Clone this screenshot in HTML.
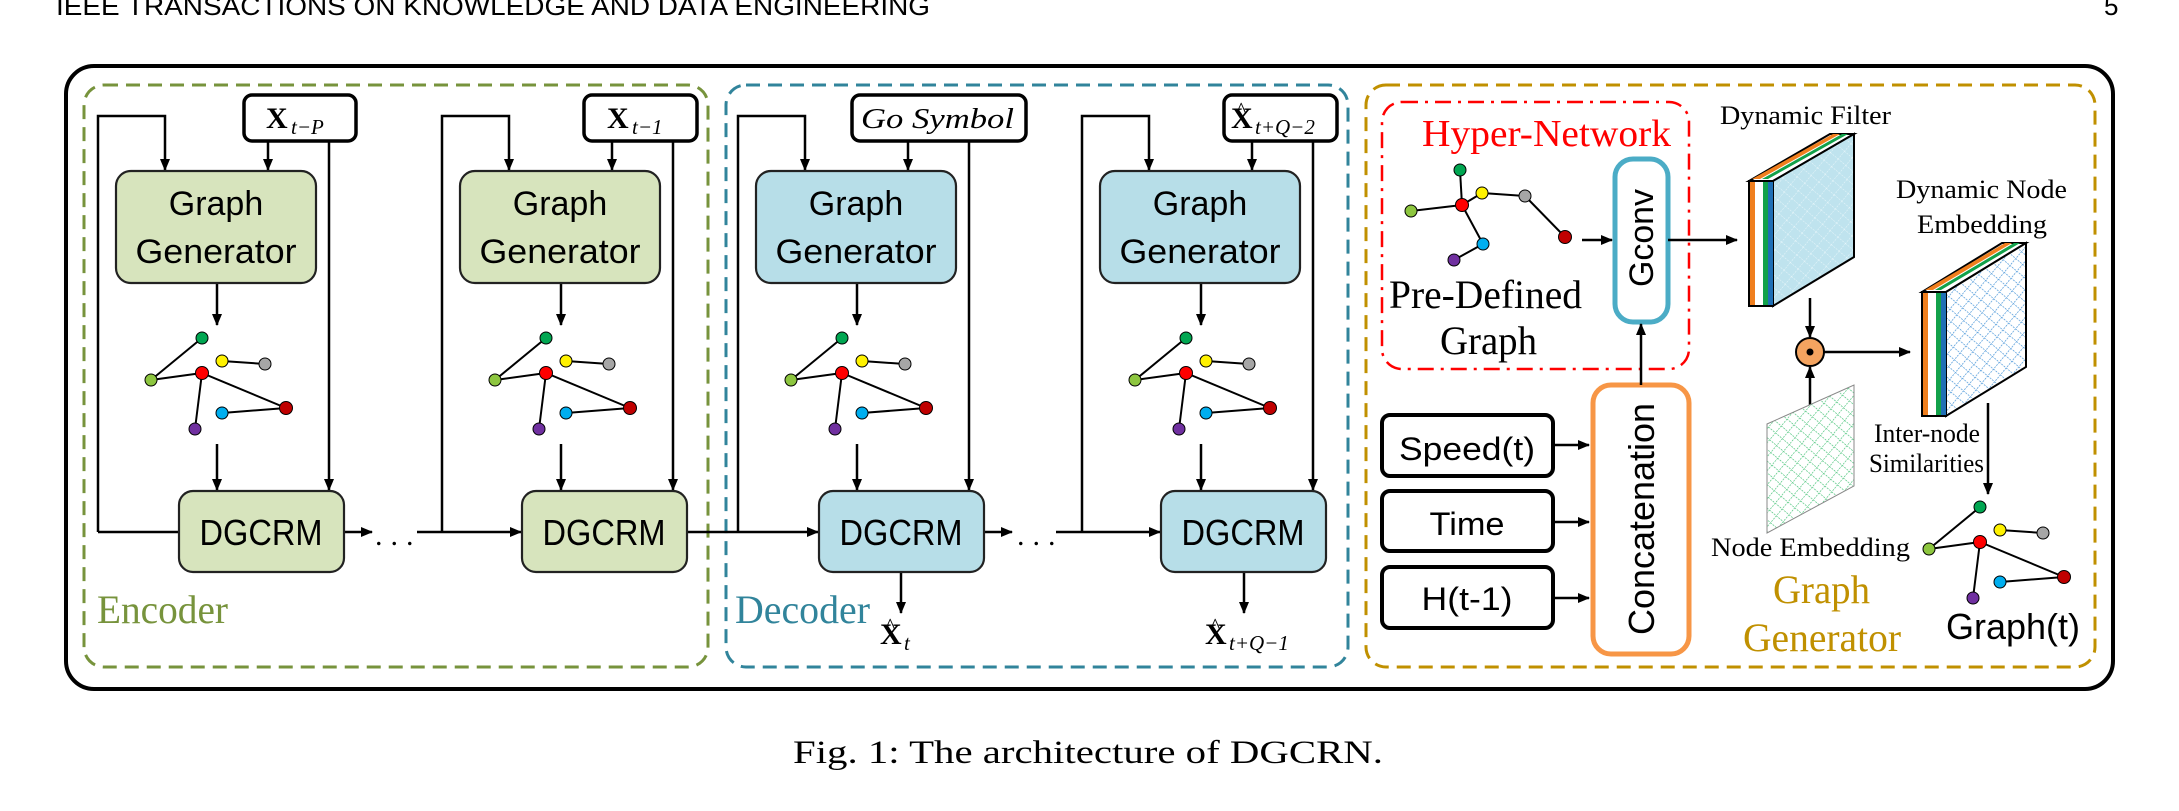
<!DOCTYPE html>
<html><head><meta charset="utf-8"><style>
html,body{margin:0;padding:0;background:#fff;}
svg{display:block;}
.sans{font-family:"Liberation Sans",sans-serif;}
.serif{font-family:"Liberation Serif",serif;}
</style></head><body>
<svg width="2179" height="811" viewBox="0 0 2179 811" xmlns="http://www.w3.org/2000/svg">
<defs>
<marker id="ah" markerWidth="12" markerHeight="10" refX="11" refY="5" orient="auto" markerUnits="userSpaceOnUse">
<path d="M0,0 L12,5 L0,10 z" fill="#000"/></marker>
<pattern id="hb" width="10" height="10" patternUnits="userSpaceOnUse" patternTransform="rotate(40)">
<rect width="10" height="10" fill="#bfe3ee"/><line x1="0" y1="0" x2="0" y2="10" stroke="#e8f6fa" stroke-width="1" stroke-dasharray="2,1"/><line x1="0" y1="0" x2="10" y2="0" stroke="#e8f6fa" stroke-width="1" stroke-dasharray="2,1"/></pattern>
<pattern id="hb2" width="9" height="9" patternUnits="userSpaceOnUse" patternTransform="rotate(40)">
<rect width="9" height="9" fill="#fff"/><line x1="0" y1="0" x2="0" y2="9" stroke="#3d8fd6" stroke-width="1.3" stroke-dasharray="2,1"/><line x1="0" y1="0" x2="9" y2="0" stroke="#3d8fd6" stroke-width="1.3" stroke-dasharray="2,1"/></pattern>
<pattern id="hg" width="9" height="9" patternUnits="userSpaceOnUse" patternTransform="rotate(40)">
<rect width="9" height="9" fill="#fff"/><line x1="0" y1="0" x2="0" y2="9" stroke="#3cbf70" stroke-width="1.2" stroke-dasharray="2,1"/><line x1="0" y1="0" x2="9" y2="0" stroke="#3cbf70" stroke-width="1.2" stroke-dasharray="2,1"/></pattern>
<g id="gicon" stroke="#000" stroke-width="2">
<line x1="35" y1="380" x2="86" y2="338"/><line x1="35" y1="380" x2="86" y2="373"/>
<line x1="106" y1="361" x2="149" y2="364"/><line x1="86" y1="373" x2="170" y2="408"/>
<line x1="86" y1="373" x2="79" y2="429"/><line x1="106" y1="413" x2="170" y2="408"/>
<circle cx="86" cy="338" r="6" fill="#00a651" stroke-width="1"/>
<circle cx="106" cy="361" r="6" fill="#fff200" stroke-width="1"/>
<circle cx="149" cy="364" r="6" fill="#a6a6a6" stroke-width="1"/>
<circle cx="35" cy="380" r="6" fill="#8dc63f" stroke-width="1"/>
<circle cx="86" cy="373" r="6.5" fill="#ff0000" stroke-width="1"/>
<circle cx="170" cy="408" r="6.5" fill="#c00000" stroke-width="1"/>
<circle cx="106" cy="413" r="6" fill="#00aeef" stroke-width="1"/>
<circle cx="79" cy="429" r="6" fill="#7030a0" stroke-width="1"/>
</g>
<g id="col" fill="none" stroke="#000" stroke-width="2.5">
<polyline points="-18,532 -18,116 49,116 49,170" marker-end="url(#ah)"/>
<line x1="152" y1="141" x2="152" y2="170" marker-end="url(#ah)"/>
<line x1="213" y1="141" x2="213" y2="490" marker-end="url(#ah)"/>
<line x1="101" y1="283" x2="101" y2="325" marker-end="url(#ah)"/>
<line x1="101" y1="444" x2="101" y2="490" marker-end="url(#ah)"/>
</g>
</defs>

<text x="56" y="15" class="sans" font-size="26" fill="#000" textLength="874" lengthAdjust="spacingAndGlyphs">IEEE TRANSACTIONS ON KNOWLEDGE AND DATA ENGINEERING</text>
<text x="2104" y="15" class="sans" font-size="26" fill="#000">5</text>

<rect x="66" y="66" width="2047" height="623" rx="28" fill="none" stroke="#000" stroke-width="4"/>
<rect x="84" y="85" width="624" height="582" rx="20" fill="none" stroke="#77933C" stroke-width="3" stroke-dasharray="14,8"/>
<rect x="726" y="85" width="622" height="582" rx="20" fill="none" stroke="#31849B" stroke-width="3" stroke-dasharray="14,8"/>
<rect x="1366" y="85" width="729" height="582" rx="20" fill="none" stroke="#C09000" stroke-width="3" stroke-dasharray="14,8"/>

<g transform="translate(116,0)"><use href="#col"/><use href="#gicon"/></g>
<g transform="translate(460,0)"><use href="#col"/><use href="#gicon"/></g>
<g transform="translate(756,0)"><use href="#col"/><use href="#gicon"/></g>
<g transform="translate(1100,0)"><use href="#col"/><use href="#gicon"/></g>

<g fill="none" stroke="#000" stroke-width="2.5">
<line x1="98" y1="532" x2="179" y2="532"/>
<line x1="344" y1="532" x2="372" y2="532" marker-end="url(#ah)"/>
<line x1="417" y1="532" x2="521" y2="532" marker-end="url(#ah)"/>
<line x1="688" y1="532" x2="818" y2="532" marker-end="url(#ah)"/>
<line x1="984" y1="532" x2="1012" y2="532" marker-end="url(#ah)"/>
<line x1="1056" y1="532" x2="1160" y2="532" marker-end="url(#ah)"/>
<line x1="901" y1="572" x2="901" y2="613" marker-end="url(#ah)"/>
<line x1="1244" y1="572" x2="1244" y2="613" marker-end="url(#ah)"/>
</g>
<text x="375" y="545" class="serif" font-size="30" letter-spacing="8">...</text>
<text x="1017" y="545" class="serif" font-size="30" letter-spacing="8">...</text>

<g stroke="#222" stroke-width="2.2">
<rect x="116" y="171" width="200" height="112" rx="15" fill="#D7E4BD"/>
<rect x="460" y="171" width="200" height="112" rx="15" fill="#D7E4BD"/>
<rect x="756" y="171" width="200" height="112" rx="15" fill="#B7DEE8"/>
<rect x="1100" y="171" width="200" height="112" rx="15" fill="#B7DEE8"/>
<rect x="179" y="491" width="165" height="81" rx="14" fill="#D7E4BD"/>
<rect x="522" y="491" width="165" height="81" rx="14" fill="#D7E4BD"/>
<rect x="819" y="491" width="165" height="81" rx="14" fill="#B7DEE8"/>
<rect x="1161" y="491" width="165" height="81" rx="14" fill="#B7DEE8"/>
</g>
<g class="sans" font-size="34" text-anchor="middle" fill="#000">
<text x="216" y="215">Graph</text><text x="216" y="263" textLength="161" lengthAdjust="spacingAndGlyphs">Generator</text>
<text x="560" y="215">Graph</text><text x="560" y="263" textLength="161" lengthAdjust="spacingAndGlyphs">Generator</text>
<text x="856" y="215">Graph</text><text x="856" y="263" textLength="161" lengthAdjust="spacingAndGlyphs">Generator</text>
<text x="1200" y="215">Graph</text><text x="1200" y="263" textLength="161" lengthAdjust="spacingAndGlyphs">Generator</text>
<g font-size="36">
<text x="261" y="545" textLength="123" lengthAdjust="spacingAndGlyphs">DGCRM</text>
<text x="604" y="545" textLength="123" lengthAdjust="spacingAndGlyphs">DGCRM</text>
<text x="901" y="545" textLength="123" lengthAdjust="spacingAndGlyphs">DGCRM</text>
<text x="1243" y="545" textLength="123" lengthAdjust="spacingAndGlyphs">DGCRM</text>
</g></g>

<g fill="#fff" stroke="#000" stroke-width="3.5">
<rect x="244" y="95" width="112" height="46" rx="8"/>
<rect x="584" y="95" width="113" height="46" rx="8"/>
<rect x="852" y="95" width="174" height="46" rx="8"/>
<rect x="1224" y="95" width="113" height="46" rx="8"/>
</g>
<g class="serif" fill="#000">
<text x="266" y="128" font-size="30" font-weight="bold">X</text><text x="291" y="134" font-size="21" font-style="italic">t−P</text>
<text x="607" y="128" font-size="30" font-weight="bold">X</text><text x="632" y="134" font-size="21" font-style="italic">t−1</text>
<text x="861" y="128" font-size="29" font-style="italic" textLength="153" lengthAdjust="spacingAndGlyphs">Go Symbol</text>
<text x="1231" y="128" font-size="30" font-weight="bold">X</text><text x="1236" y="117" font-size="22">^</text><text x="1255" y="134" font-size="21" font-style="italic">t+Q−2</text>
<text x="880" y="644" font-size="30" font-weight="bold">X</text><text x="885" y="633" font-size="22">^</text><text x="904" y="650" font-size="21" font-style="italic">t</text>
<text x="1205" y="644" font-size="30" font-weight="bold">X</text><text x="1210" y="633" font-size="22">^</text><text x="1229" y="650" font-size="21" font-style="italic">t+Q−1</text>
<text x="97" y="623" font-size="40" fill="#77933C" textLength="131" lengthAdjust="spacingAndGlyphs">Encoder</text>
<text x="735" y="623" font-size="40" fill="#31849B" textLength="135" lengthAdjust="spacingAndGlyphs">Decoder</text>
</g>

<rect x="1382" y="102" width="307" height="267" rx="20" fill="none" stroke="#ff0000" stroke-width="2.5" stroke-dasharray="16,7,3,7"/>
<text x="1422" y="146" class="serif" font-size="38" fill="#ff0000" textLength="249" lengthAdjust="spacingAndGlyphs">Hyper-Network</text>
<g stroke="#000" stroke-width="2">
<line x1="1460" y1="170" x2="1462" y2="205"/><line x1="1411" y1="211" x2="1462" y2="205"/>
<line x1="1462" y1="205" x2="1482" y2="193"/><line x1="1482" y1="193" x2="1525" y2="196"/>
<line x1="1525" y1="196" x2="1565" y2="237"/><line x1="1462" y1="205" x2="1483" y2="244"/>
<line x1="1483" y1="244" x2="1454" y2="260"/>
<circle cx="1460" cy="170" r="6" fill="#00a651" stroke-width="1"/>
<circle cx="1462" cy="205" r="6.5" fill="#ff0000" stroke-width="1"/>
<circle cx="1482" cy="193" r="6" fill="#fff200" stroke-width="1"/>
<circle cx="1525" cy="196" r="6" fill="#a6a6a6" stroke-width="1"/>
<circle cx="1411" cy="211" r="6" fill="#8dc63f" stroke-width="1"/>
<circle cx="1565" cy="237" r="6.5" fill="#c00000" stroke-width="1"/>
<circle cx="1483" cy="244" r="6" fill="#00aeef" stroke-width="1"/>
<circle cx="1454" cy="260" r="6" fill="#7030a0" stroke-width="1"/>
</g>
<g class="serif" font-size="40" fill="#000">
<text x="1389" y="308" textLength="193" lengthAdjust="spacingAndGlyphs">Pre-Defined</text>
<text x="1440" y="354" textLength="97" lengthAdjust="spacingAndGlyphs">Graph</text>
</g>
<rect x="1615" y="159" width="53" height="163" rx="18" fill="#fff" stroke="#4BACC6" stroke-width="5"/>
<text transform="translate(1653,238) rotate(-90)" class="sans" font-size="34" text-anchor="middle" textLength="98" lengthAdjust="spacingAndGlyphs">Gconv</text>
<rect x="1593" y="385" width="96" height="269" rx="18" fill="#fff" stroke="#F79646" stroke-width="5"/>
<text transform="translate(1654,519) rotate(-90)" class="sans" font-size="36" text-anchor="middle" textLength="232" lengthAdjust="spacingAndGlyphs">Concatenation</text>

<g fill="#fff" stroke="#000" stroke-width="4">
<rect x="1382" y="415" width="171" height="61" rx="8"/>
<rect x="1382" y="491" width="171" height="60" rx="8"/>
<rect x="1382" y="567" width="171" height="61" rx="8"/>
</g>
<g class="sans" font-size="32" fill="#000" text-anchor="middle">
<text x="1467" y="460" textLength="136" lengthAdjust="spacingAndGlyphs">Speed(t)</text>
<text x="1467" y="535" textLength="75" lengthAdjust="spacingAndGlyphs">Time</text>
<text x="1467" y="610" textLength="91" lengthAdjust="spacingAndGlyphs">H(t-1)</text>
</g>

<g fill="none" stroke="#000" stroke-width="2.5">
<line x1="1582" y1="240" x2="1612" y2="240" marker-end="url(#ah)"/>
<line x1="1668" y1="240" x2="1737" y2="240" marker-end="url(#ah)"/>
<line x1="1641" y1="385" x2="1641" y2="324" marker-end="url(#ah)"/>
<line x1="1553" y1="445" x2="1589" y2="445" marker-end="url(#ah)"/>
<line x1="1553" y1="522" x2="1589" y2="522" marker-end="url(#ah)"/>
<line x1="1553" y1="598" x2="1589" y2="598" marker-end="url(#ah)"/>
<line x1="1810" y1="298" x2="1810" y2="337" marker-end="url(#ah)"/>
<line x1="1810" y1="406" x2="1810" y2="367" marker-end="url(#ah)"/>
<line x1="1824" y1="352" x2="1910" y2="352" marker-end="url(#ah)"/>
<line x1="1988" y1="403" x2="1988" y2="494" marker-end="url(#ah)"/>
</g>

<polygon points="1749,181 1773,181 1854,134 1830,134" fill="#fff" stroke="#000" stroke-width="2"/>
<polygon points="1752,179 1760,179 1840,134 1833,134" fill="#F07F1E"/>
<polygon points="1762,179 1768,179 1848,134 1842,134" fill="#12A14A"/>
<polygon points="1773,181 1854,134 1854,257 1773,306" fill="url(#hb)" stroke="#000" stroke-width="2"/>
<rect x="1749" y="181" width="24" height="125" fill="#fff" stroke="#000" stroke-width="2"/>
<rect x="1750" y="182" width="5" height="123" fill="#F07F1E"/>
<rect x="1763" y="182" width="5" height="123" fill="#12A14A"/>
<rect x="1768" y="182" width="5" height="123" fill="#1F6FB5"/>
<text x="1720" y="124" class="serif" font-size="26" textLength="171" lengthAdjust="spacingAndGlyphs">Dynamic Filter</text>

<circle cx="1810" cy="352" r="14" fill="#F4A460" stroke="#000" stroke-width="2"/>
<circle cx="1810" cy="352" r="3.5" fill="#000"/>

<polygon points="1922,292 1946,292 2026,243 2002,243" fill="#fff" stroke="#000" stroke-width="2"/>
<polygon points="1925,290 1933,290 2012,243 2005,243" fill="#F07F1E"/>
<polygon points="1935,290 1941,290 2020,243 2014,243" fill="#12A14A"/>
<polygon points="1946,292 2026,243 2026,367 1946,416" fill="url(#hb2)" stroke="#000" stroke-width="2"/>
<rect x="1922" y="292" width="24" height="124" fill="#fff" stroke="#000" stroke-width="2"/>
<rect x="1923" y="293" width="5" height="122" fill="#F07F1E"/>
<rect x="1936" y="293" width="5" height="122" fill="#12A14A"/>
<rect x="1941" y="293" width="5" height="122" fill="#1F6FB5"/>
<g class="serif" font-size="26" fill="#000">
<text x="1896" y="198" textLength="171" lengthAdjust="spacingAndGlyphs">Dynamic Node</text>
<text x="1917" y="233" textLength="130" lengthAdjust="spacingAndGlyphs">Embedding</text>
<text x="1874" y="442" textLength="106" lengthAdjust="spacingAndGlyphs">Inter-node</text>
<text x="1869" y="472" textLength="115" lengthAdjust="spacingAndGlyphs">Similarities</text>
<text x="1711" y="556" textLength="199" lengthAdjust="spacingAndGlyphs">Node Embedding</text>
</g>

<polygon points="1767,424 1854,385 1854,486 1767,533" fill="url(#hg)" stroke="#888" stroke-width="1"/>

<g class="serif" font-size="40" fill="#C09000">
<text x="1773" y="603" textLength="97" lengthAdjust="spacingAndGlyphs">Graph</text>
<text x="1743" y="651" textLength="158" lengthAdjust="spacingAndGlyphs">Generator</text>
</g>

<g transform="translate(1894,169)"><use href="#gicon"/></g>
<text x="1946" y="639" class="sans" font-size="36" textLength="134" lengthAdjust="spacingAndGlyphs">Graph(t)</text>

<text x="793" y="763" class="serif" font-size="33" textLength="590" lengthAdjust="spacingAndGlyphs">Fig. 1: The architecture of DGCRN.</text>
</svg>
</body></html>
